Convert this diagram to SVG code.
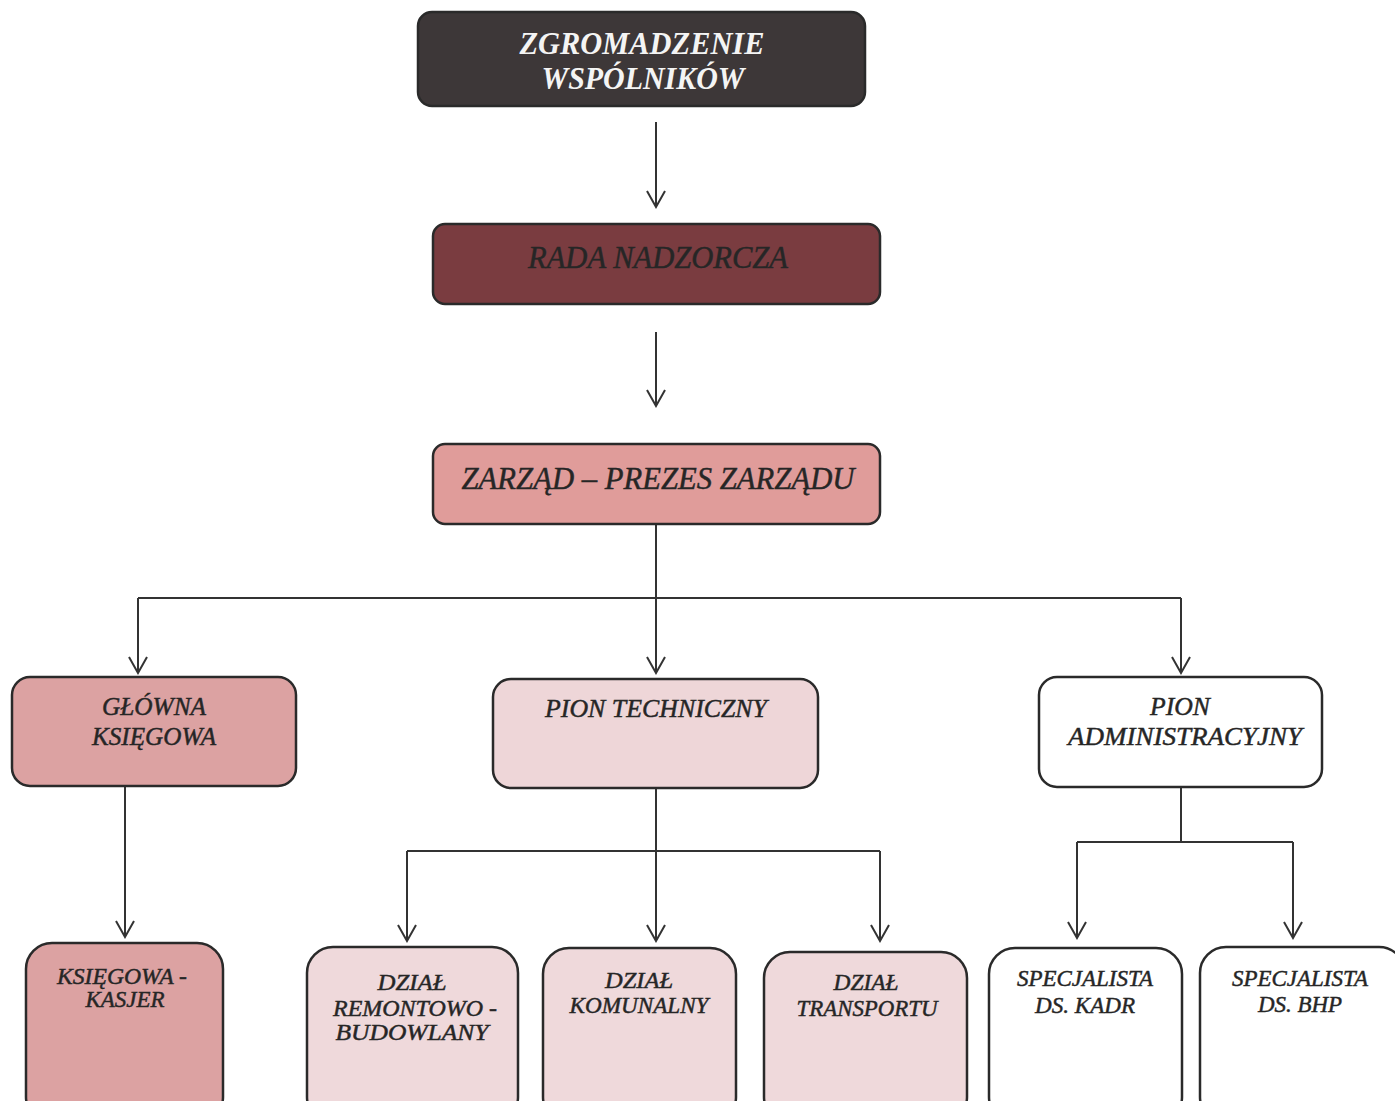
<svg xmlns="http://www.w3.org/2000/svg" width="1395" height="1101" viewBox="0 0 1395 1101">
<style>
.box{stroke:#2a2a2a;stroke-width:2.5}
.t{font-family:"Liberation Serif","Times New Roman",serif;font-style:italic;fill:#262626;stroke:#262626;stroke-width:0.45;text-anchor:middle}
.top{font-weight:bold;font-size:31px;fill:#f4f4f4;stroke:none}
.l1{font-size:32px}
.l2{font-size:25px}
.l3{font-size:23px}
.c{fill:none;stroke:#333;stroke-width:2}
</style>
<defs>
<marker id="ah" viewBox="-18 -11 20 22" refX="0" refY="0" markerWidth="20" markerHeight="22" markerUnits="userSpaceOnUse" orient="auto">
<path d="M-16,-9 L0,0 L-16,9" fill="none" stroke="#333" stroke-width="2"/>
</marker>
</defs>
<rect width="1395" height="1101" fill="#ffffff"/>
<g id="connectors">
<path class="c" d="M656,122 V207" marker-end="url(#ah)"/>
<path class="c" d="M656,332 V406" marker-end="url(#ah)"/>
<path class="c" d="M656,525 V673" marker-end="url(#ah)"/>
<path class="c" d="M138,598 H1181"/>
<path class="c" d="M138,598 V673" marker-end="url(#ah)"/>
<path class="c" d="M1181,598 V673" marker-end="url(#ah)"/>
<path class="c" d="M125,787 V937" marker-end="url(#ah)"/>
<path class="c" d="M656,788 V941" marker-end="url(#ah)"/>
<path class="c" d="M407,851 H880"/>
<path class="c" d="M407,851 V941" marker-end="url(#ah)"/>
<path class="c" d="M880,851 V941" marker-end="url(#ah)"/>
<path class="c" d="M1181,787 V842"/>
<path class="c" d="M1077,842 H1293"/>
<path class="c" d="M1077,842 V938" marker-end="url(#ah)"/>
<path class="c" d="M1293,842 V938" marker-end="url(#ah)"/>
</g>
<g id="zgromadzenie">
<rect class="box" x="418" y="12" width="447" height="94" rx="14" fill="#3d3738"/>
<text class="t top" x="642" y="54" textLength="245" lengthAdjust="spacingAndGlyphs">ZGROMADZENIE</text>
<text class="t top" x="643" y="89" textLength="203" lengthAdjust="spacingAndGlyphs">WSPÓLNIKÓW</text>
</g>
<g id="rada">
<rect class="box" x="433" y="224" width="447" height="80" rx="12" fill="#7a3c40"/>
<text class="t l1" x="658" y="268" textLength="260" lengthAdjust="spacingAndGlyphs">RADA NADZORCZA</text>
</g>
<g id="zarzad">
<rect class="box" x="433" y="444" width="447" height="80" rx="12" fill="#e09c9a"/>
<text class="t l1" x="658" y="489" textLength="393" lengthAdjust="spacingAndGlyphs">ZARZĄD – PREZES ZARZĄDU</text>
</g>
<g id="glowna">
<rect class="box" x="12" y="677" width="284" height="109" rx="18" fill="#dca2a2"/>
<text class="t l2" x="154" y="715" textLength="104" lengthAdjust="spacingAndGlyphs">GŁÓWNA</text>
<text class="t l2" x="154" y="745" textLength="124" lengthAdjust="spacingAndGlyphs">KSIĘGOWA</text>
</g>
<g id="pion-tech">
<rect class="box" x="493" y="679" width="325" height="109" rx="18" fill="#eed6d8"/>
<text class="t l2" x="656" y="717" textLength="222" lengthAdjust="spacingAndGlyphs">PION TECHNICZNY</text>
</g>
<g id="pion-adm">
<rect class="box" x="1039" y="677" width="283" height="110" rx="18" fill="#ffffff"/>
<text class="t l2" x="1180" y="715" textLength="60" lengthAdjust="spacingAndGlyphs">PION</text>
<text class="t l2" x="1185" y="745" textLength="234" lengthAdjust="spacingAndGlyphs">ADMINISTRACYJNY</text>
</g>
<g id="kasjer">
<rect class="box" x="26" y="943" width="197" height="180" rx="26" fill="#dca2a2"/>
<text class="t l3" x="122" y="984" textLength="130" lengthAdjust="spacingAndGlyphs">KSIĘGOWA -</text>
<text class="t l3" x="125" y="1007" textLength="79" lengthAdjust="spacingAndGlyphs">KASJER</text>
</g>
<g id="remontowo">
<rect class="box" x="307" y="947" width="211" height="176" rx="26" fill="#efd9db"/>
<text class="t l3" x="412" y="990" textLength="69" lengthAdjust="spacingAndGlyphs">DZIAŁ</text>
<text class="t l3" x="415" y="1016" textLength="164" lengthAdjust="spacingAndGlyphs">REMONTOWO -</text>
<text class="t l3" x="412" y="1040" textLength="153" lengthAdjust="spacingAndGlyphs">BUDOWLANY</text>
</g>
<g id="komunalny">
<rect class="box" x="543" y="948" width="193" height="175" rx="26" fill="#efd9db"/>
<text class="t l3" x="639" y="988" textLength="68" lengthAdjust="spacingAndGlyphs">DZIAŁ</text>
<text class="t l3" x="639" y="1013" textLength="139" lengthAdjust="spacingAndGlyphs">KOMUNALNY</text>
</g>
<g id="transport">
<rect class="box" x="764" y="952" width="203" height="171" rx="26" fill="#efd9db"/>
<text class="t l3" x="866" y="990" textLength="65" lengthAdjust="spacingAndGlyphs">DZIAŁ</text>
<text class="t l3" x="867" y="1016" textLength="141" lengthAdjust="spacingAndGlyphs">TRANSPORTU</text>
</g>
<g id="kadr">
<rect class="box" x="989" y="948" width="193" height="175" rx="26" fill="#ffffff"/>
<text class="t l3" x="1085" y="986" textLength="136" lengthAdjust="spacingAndGlyphs">SPECJALISTA</text>
<text class="t l3" x="1085" y="1013" textLength="100" lengthAdjust="spacingAndGlyphs">DS. KADR</text>
</g>
<g id="bhp">
<rect class="box" x="1200" y="947" width="205" height="176" rx="26" fill="#ffffff"/>
<text class="t l3" x="1300" y="986" textLength="136" lengthAdjust="spacingAndGlyphs">SPECJALISTA</text>
<text class="t l3" x="1300" y="1012" textLength="84" lengthAdjust="spacingAndGlyphs">DS. BHP</text>
</g>
</svg>
